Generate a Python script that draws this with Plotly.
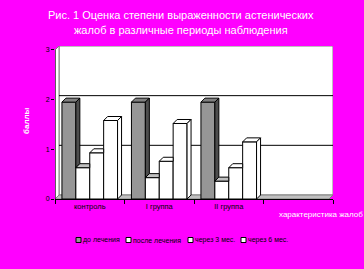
import plotly.graph_objects as go

categories = ["контроль", "I группа", "II группа"]
series_names = ["до лечения", "после лечения", "через 3 мес.", "через 6 мес."]
before = [1.95, 1.95, 1.95]
after = [0.63, 0.43, 0.36]
month3 = [0.93, 0.76, 0.63]
month6 = [1.58, 1.52, 1.15]
y_ticks = [0, 1, 2, 3]

series = [before, after, month3, month6]
front_col = ["#969696", "#ffffff", "#ffffff", "#ffffff"]
top_col = ["#808080", "#c0c0c0", "#ffffff", "#ffffff"]
side_col = ["#4d4d4d", "#969696", "#ffffff", "#ffffff"]

W, H = 364, 269
L, R, T, B = 55, 31, 46, 70
YMAX = 3.08
xr_range = [-0.5, 3.5]
pw = W - L - R
ph = H - T - B
dx = 4 * (xr_range[1] - xr_range[0]) / pw
dy = 4 * YMAX / ph
bw = 0.2

fig = go.Figure()
xs = list(range(len(categories)))

for i, vals in enumerate(series):
    fig.add_trace(go.Bar(
        x=xs, y=vals, name=series_names[i], width=bw, offset=-0.4 + bw * i,
        marker=dict(color=front_col[i], line=dict(color="black", width=1)),
        showlegend=False,
    ))

for j in xs:
    for i, vals in enumerate(series):
        v = vals[j]
        vn = series[i + 1][j] if i < len(series) - 1 else 0.0
        xl = j - 0.4 + bw * i
        xr = xl + bw
        if i < len(series) - 1 and vn > v:
            tx = [xl, xl + dx, xr, xr, xl]
            ty = [v, v + dy, v + dy, v, v]
        else:
            tx = [xl, xl + dx, xr + dx, xr, xl]
            ty = [v, v + dy, v + dy, v, v]
        fig.add_trace(go.Scatter(x=tx, y=ty, mode="lines", fill="toself",
                                 fillcolor=top_col[i], line=dict(color="black", width=1),
                                 hoverinfo="skip", showlegend=False))
        if v > vn or i == len(series) - 1:
            base = vn if i < len(series) - 1 else 0.0
            sx = [xr, xr + dx, xr + dx, xr, xr]
            sy = [base, base + dy, v + dy, v, base]
            fig.add_trace(go.Scatter(x=sx, y=sy, mode="lines", fill="toself",
                                     fillcolor=side_col[i], line=dict(color="black", width=1),
                                     hoverinfo="skip", showlegend=False))

shapes = []
shapes.append(dict(type="rect", xref="x", yref="y", x0=-0.5 + dx, x1=3.5, y0=dy, y1=YMAX,
                   fillcolor="white", line=dict(color="#808080", width=1), layer="below"))
shapes.append(dict(type="path", xref="x", yref="y",
                   path=f"M -0.5 0 L -0.5 3 L {-0.5 + dx} {YMAX} L {-0.5 + dx} {dy} Z",
                   fillcolor="white", line=dict(color="#808080", width=1), layer="below"))
shapes.append(dict(type="path", xref="x", yref="y",
                   path=f"M -0.5 0 L {3.5 - dx} 0 L 3.5 {dy} L {-0.5 + dx} {dy} Z",
                   fillcolor="#c0c0c0", line=dict(color="#808080", width=1), layer="below"))
for v in [1, 2]:
    shapes.append(dict(type="line", xref="x", yref="y", x0=-0.5 + dx, x1=3.5, y0=v + dy, y1=v + dy,
                       line=dict(color="black", width=1), layer="below"))
shapes.append(dict(type="line", xref="x", yref="y", x0=-0.5, x1=-0.5, y0=0, y1=3,
                   line=dict(color="black", width=1)))

leg_x = [76, 126, 188, 241]
leg_y = 240
annotations = []
for i, name in enumerate(series_names):
    x0 = leg_x[i]
    shapes.append(dict(type="rect", xref="paper", yref="paper",
                       x0=(x0 - L) / pw, x1=(x0 + 5 - L) / pw,
                       y0=(H - B - (leg_y + 2.5)) / ph, y1=(H - B - (leg_y - 2.5)) / ph,
                       fillcolor=front_col[i], line=dict(color="black", width=1)))
    annotations.append(dict(xref="paper", yref="paper", x=(x0 + 5 - L) / pw, y=(H - B - leg_y) / ph,
                            text=name, showarrow=False, xanchor="left", yanchor="middle",
                            font=dict(size=7, color="black", family="Liberation Sans")))

annotations.append(dict(xref="paper", yref="paper", x=(181 - L) / pw, y=(H - B - 15) / ph,
                        text="Рис. 1 Оценка степени выраженности астенических",
                        showarrow=False, xanchor="center", yanchor="middle",
                        font=dict(size=11, color="white", family="Liberation Sans")))
annotations.append(dict(xref="paper", yref="paper", x=(181 - L) / pw, y=(H - B - 30) / ph,
                        text="жалоб в различные периоды наблюдения",
                        showarrow=False, xanchor="center", yanchor="middle",
                        font=dict(size=11, color="white", family="Liberation Sans")))
annotations.append(dict(xref="paper", yref="paper", x=(26 - L) / pw, y=(H - B - 121) / ph,
                        text="<b>баллы</b>", textangle=-90, showarrow=False,
                        xanchor="center", yanchor="middle",
                        font=dict(size=8, color="white", family="Liberation Sans")))
annotations.append(dict(xref="paper", yref="paper", x=(321 - L) / pw, y=(H - B - 214) / ph,
                        text="характеристика жалоб", showarrow=False,
                        xanchor="center", yanchor="middle",
                        font=dict(size=8, color="white", family="Liberation Sans")))

fig.update_layout(
    width=W, height=H, margin=dict(l=L, r=R, t=T, b=B),
    paper_bgcolor="#ff00ff", plot_bgcolor="#ff00ff",
    barmode="overlay", showlegend=False,
    shapes=shapes, annotations=annotations,
    xaxis=dict(range=xr_range, tickvals=xs, ticktext=categories, ticks="",
               showgrid=False, zeroline=False, showline=True, linecolor="black", linewidth=1,
               tickfont=dict(size=7.5, color="black", family="Liberation Sans"),
               minor=dict(tickvals=[-0.5, 0.5, 1.5, 2.5, 3.5], ticks="outside", ticklen=4,
                          tickcolor="black", showgrid=False)),
    yaxis=dict(range=[0, YMAX], tickvals=y_ticks, ticks="outside", ticklen=3, tickcolor="black",
               showgrid=False, zeroline=False, showline=False,
               tickfont=dict(size=7, color="black", family="Liberation Sans")),
    font=dict(family="Liberation Sans"),
)

fig.write_html("out.html")
